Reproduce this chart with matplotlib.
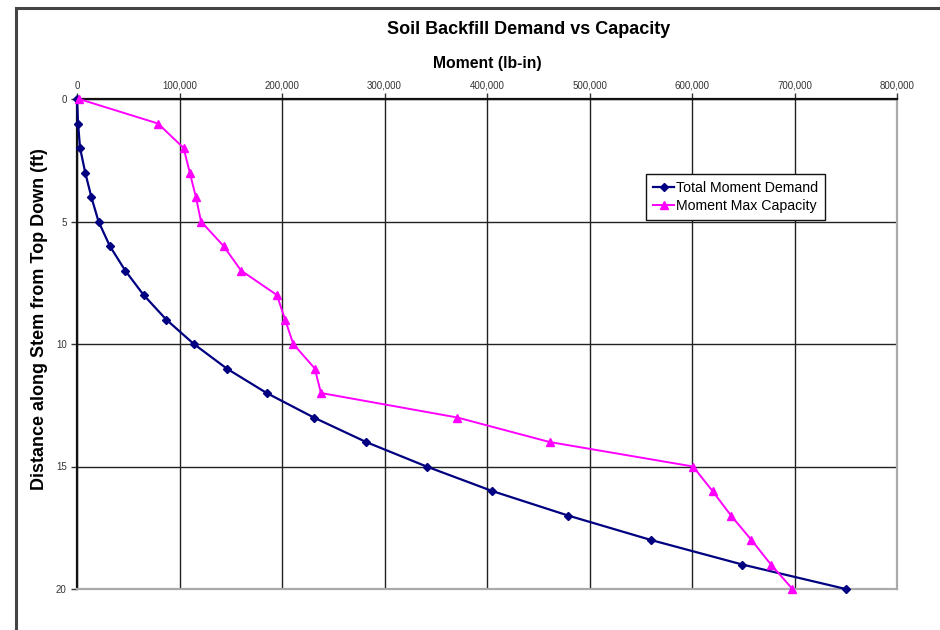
import matplotlib.pyplot as plt
from matplotlib.patches import Rectangle
from matplotlib.ticker import FuncFormatter

plt.rcParams['font.family'] = ['Liberation Sans', 'DejaVu Sans']

# distance down the stem (ft)
depth = list(range(0, 21))

# moments (lb-in)
demand = [0, 1000, 3000, 8000, 14000, 21000, 32000, 47000, 65000, 87000,
          114000, 146000, 185000, 231000, 282000, 341000, 405000, 479000,
          560000, 649000, 750000]
capacity = [2000, 79000, 104000, 110000, 116000, 121000, 143000, 160000,
            195000, 203000, 211000, 232000, 238000, 371000, 461000, 601000,
            620000, 638000, 658000, 677000, 698000]

x_ticks = list(range(0, 800001, 100000))
y_ticks = [0, 5, 10, 15, 20]

fig = plt.figure(figsize=(9.4, 6.3), dpi=100)
fig.patches.append(Rectangle((16 / 940, -0.1), 1.2, 1 - 8 / 630 + 0.1,
                             transform=fig.transFigure, fill=False,
                             edgecolor='#444444', linewidth=2.2, zorder=0))

ax = fig.add_axes([77 / 940, 1 - 589 / 630, 820 / 940, 490 / 630])

ax.plot(demand, depth, color='#000080', marker='D', markersize=4.5,
        linewidth=1.6, label='Total Moment Demand', zorder=3, clip_on=False)
ax.plot(capacity, depth, color='#FF00FF', marker='^', markersize=6,
        linewidth=1.4, label='Moment Max Capacity', zorder=3, clip_on=False)

ax.set_xlim(0, 800000)
ax.set_ylim(20, 0)
ax.xaxis.tick_top()
ax.xaxis.set_label_position('top')
ax.set_xticks(x_ticks)
ax.set_yticks(y_ticks)
ax.xaxis.set_major_formatter(FuncFormatter(lambda v, p: f'{int(v):,}'))
ax.tick_params(axis='both', labelsize=7, colors='#333333', length=4,
               width=1, direction='out')
ax.tick_params(axis='x', pad=2)
ax.grid(True, color='#222222', linewidth=1.0)

for side in ('top', 'left'):
    ax.spines[side].set_color('#111111')
    ax.spines[side].set_linewidth(1.6)
for side in ('bottom', 'right'):
    ax.spines[side].set_color('#aaaaaa')
    ax.spines[side].set_linewidth(1.6)

ax.set_xlabel('Moment (lb-in)', fontsize=11.3, fontweight='bold', labelpad=9)
fig.text(40 / 940, 1 - 319 / 630, 'Distance along Stem from Top Down (ft)',
         rotation=90, ha='center', va='center', fontsize=13,
         fontweight='bold')
fig.text(529 / 940, 1 - 29 / 630, 'Soil Backfill Demand vs Capacity',
         ha='center', va='center', fontsize=13, fontweight='bold')

leg = ax.legend(loc='upper left', bbox_to_anchor=(569 / 820, (589 - 174) / 490),
                fontsize=10.2, frameon=True, fancybox=False, framealpha=1,
                edgecolor='#111111', handlelength=1.5, handletextpad=0.1,
                borderpad=0.5, labelspacing=0.25, borderaxespad=0,
                markerscale=0.85)
leg.get_frame().set_linewidth(1.0)

fig.savefig('out.png', dpi=100)
